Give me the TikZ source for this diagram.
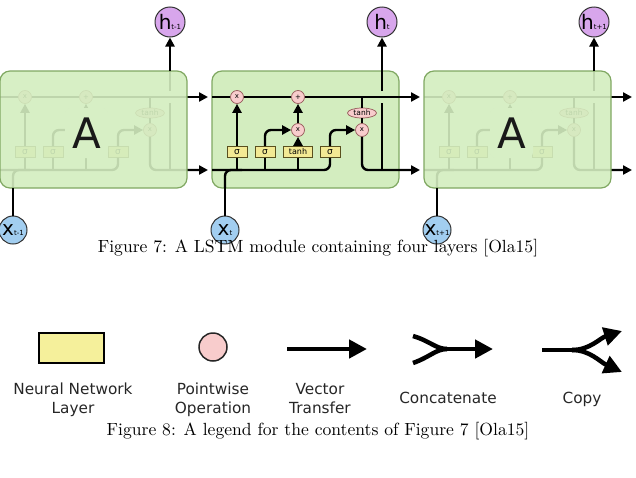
\documentclass[tikz,border=0pt]{standalone}
\usepackage{fontspec}
\newfontfamily\dv{DejaVu Sans}
\newfontfamily\capfont{lmroman10-regular.otf}
\usetikzlibrary{arrows.meta,shapes.geometric}
\definecolor{boxgreen}{RGB}{211,237,191}
\definecolor{boxedge}{RGB}{128,168,98}
\definecolor{hpurple}{RGB}{216,166,236}
\definecolor{xblue}{RGB}{162,206,240}
\definecolor{ptpink}{RGB}{248,204,204}
\definecolor{ptedge}{RGB}{150,90,90}
\definecolor{nnyellow}{RGB}{243,233,148}
\definecolor{nnedge}{RGB}{90,80,30}
\definecolor{legyellow}{RGB}{245,240,155}
\tikzset{
  wire/.style={line width=2.4pt, line join=round},
  arr/.style={wire, -{Triangle[length=9pt,width=9pt]}},
  cellbox/.style={rectangle, draw=boxedge, line width=1.2pt, fill=boxgreen, rounded corners=10pt,
    minimum width=187pt, minimum height=117pt, inner sep=0pt},
  faintbox/.style={cellbox, fill opacity=.9},
  pw/.style={circle, draw=ptedge, fill=ptpink, line width=0.7pt, minimum size=13pt, inner sep=0pt,
    font=\dv\fontsize{7}{7}\selectfont},
  nn/.style={rectangle, draw=nnedge, fill=nnyellow, line width=0.8pt, minimum height=11pt,
    minimum width=20pt, inner sep=0pt, font=\dv\fontsize{9}{9}\selectfont},
  tanhnode/.style={ellipse, draw=ptedge, fill=ptpink, line width=0.7pt, minimum width=29pt,
    minimum height=10pt, inner sep=0pt, font=\dv\fontsize{7.5}{7.5}\selectfont},
  hcirc/.style={circle, draw=black!80, fill=hpurple, line width=1pt, minimum size=30pt, inner sep=0pt},
  xcirc/.style={circle, draw=black!80, fill=xblue, line width=1pt, minimum size=28pt, inner sep=0pt},
  bigA/.style={font=\dv\fontsize{42}{42}\selectfont, text=black!90, fill=boxgreen!90!white,
    rounded corners=6pt, minimum width=43pt, minimum height=50pt, inner sep=0pt},
  legtext/.style={font=\dv\fontsize{15.3}{19}\selectfont, align=center, text=black!85},
  captiontext/.style={font=\capfont\fontsize{17.6}{20}\selectfont, anchor=base},
  legwire/.style={line width=4.5pt},
  legarr/.style={legwire, -{Triangle[length=18pt,width=18pt]}},
  pics/cellinner/.style n args={2}{code={
    \coordinate (-tin) at (0,97);
    \coordinate (-tout) at (208,97);
    \coordinate (-bin) at (0,170);
    \coordinate (-bout) at (208,170);
    \coordinate (-xbot) at (13,188);
    \coordinate (-xj) at (30,170);
    \coordinate (-hbot) at (170,170);
    \coordinate (-hlow) at (170,103);
    \coordinate (-hup) at (170,91);
    \coordinate (-htop) at (170,71);
    \coordinate (-ttap) at (150,97);
    \node[pw] (-m1) at (25,97) {x};
    \node[pw] (-add) at (86,97) {+};
    \node[pw] (-m2) at (86,130) {#1};
    \node[pw] (-m3) at (150,130) {x};
    \node[tanhnode] (-th) at (150,113) {tanh};
    \node[nn] (-s1) at (25,152) {σ};
    \node[nn] (-s2) at (53,152) {σ};
    \node[nn, minimum width=29pt, font=\dv\fontsize{8}{8}\selectfont] (-tb) at (86,152) {#2};
    \node[nn] (-s4) at (118,152) {σ};
    \draw[wire] (-tin) -- (-m1.west);
    \draw[wire] (-m1.east) -- (-add.west);
    \draw[arr] (-add.east) -- (-tout);
    \draw[wire, rounded corners=6pt] (-bin) -| (-s4.south);
    \draw[wire, rounded corners=6pt] (-xbot) |- (-xj);
    \draw[wire] (-s1.south) -- (-s1.south |- -bin);
    \draw[wire] (-s2.south) -- (-s2.south |- -bin);
    \draw[wire] (-tb.south) -- (-tb.south |- -bin);
    \draw[arr] (-s1.north) -- (-m1.south);
    \draw[arr, rounded corners=6pt] (-s2.north) |- (-m2.west);
    \draw[arr] (-tb.north) -- (-m2.south);
    \draw[arr] (-m2.north) -- (-add.south);
    \draw[arr, rounded corners=6pt] (-s4.north) |- (-m3.west);
    \draw[wire] (-ttap) -- (-th.north);
    \draw[wire] (-th.south) -- (-m3.north);
    \draw[arr, rounded corners=6pt] (-m3.south) |- (-bout);
    \draw[wire] (-hbot) -- (-hlow);
    \draw[wire] (-hup) -- (-htop);
  }}
}
\begin{document}
\begin{tikzpicture}[x=1pt,y=-1pt]
\useasboundingbox (0,0) rectangle (636,477);
% cells
\pic (L) at (0,0) {cellinner={}{}};
\node[faintbox] (boxL) at (93.5,129.5) {};
\node[cellbox] (boxM) at (305.5,129.5) {};
\pic (M) at (212,0) {cellinner={x}{tanh}};
\pic (R) at (424,0) {cellinner={}{}};
\node[faintbox] (boxR) at (517.5,129.5) {};
\node[bigA] (AL) at (86.5,133) {A};
\node[bigA] (AR) at (511.5,133) {A};
% outputs and inputs
\node[hcirc] (hL) at (170,22) {\dv\fontsize{20}{20}\selectfont h\fontsize{7}{7}\selectfont t-1};
\node[hcirc] (hM) at (382,22) {\dv\fontsize{20}{20}\selectfont h\fontsize{7}{7}\selectfont t};
\node[hcirc] (hR) at (594,22) {\dv\fontsize{20}{20}\selectfont h\fontsize{7}{7}\selectfont t+1};
\draw[arr] (L-htop) -- (hL);
\draw[arr] (M-htop) -- (hM);
\draw[arr] (R-htop) -- (hR);
\node[xcirc] (xL) at (13,230) {\dv\fontsize{20}{20}\selectfont x\fontsize{7}{7}\selectfont t-1};
\node[xcirc] (xM) at (225,230) {\dv\fontsize{20}{20}\selectfont x\fontsize{7}{7}\selectfont t};
\node[xcirc] (xR) at (437,230) {\dv\fontsize{20}{20}\selectfont x\fontsize{7}{7}\selectfont t+1};
\draw[wire] (xL) -- (L-xbot);
\draw[wire] (xM) -- (M-xbot);
\draw[wire] (xR) -- (R-xbot);
\node[captiontext] (cap7) at (318,252) {Figure 7: A LSTM module containing four layers [Ola15]};
% legend
\node[rectangle, draw=black, line width=1.8pt, fill=legyellow, minimum width=65pt, minimum height=30pt, inner sep=0pt] (lgnn) at (71.5,348) {};
\node[circle, draw=black!85, line width=1.5pt, fill=ptpink, minimum size=28pt, inner sep=0pt] (lgpw) at (213,347) {};
\coordinate (vs) at (287,349);
\coordinate (ve) at (367,349);
\draw[legarr] (vs) -- (ve);
\coordinate (ca) at (413,336);
\coordinate (cb) at (413,363);
\coordinate (cm) at (447,349);
\coordinate (ce) at (493,349);
\draw[legwire] (ca) .. controls (430,341) and (436,349) .. (cm);
\draw[legwire] (cb) .. controls (430,357) and (436,349) .. (cm);
\draw[legarr] (cm) -- (ce);
\coordinate (ka) at (542,350);
\coordinate (km) at (572,350);
\coordinate (kt) at (622,331);
\coordinate (kb) at (622,372);
\draw[legwire] (ka) -- (km);
\draw[legarr] (km) .. controls (590,350) and (600,338) .. (kt);
\draw[legarr] (km) .. controls (590,350) and (600,362) .. (kb);
\node[legtext] (lbnn) at (73,400) {Neural Network\\Layer};
\node[legtext] (lbpw) at (213,400) {Pointwise\\Operation};
\node[legtext] (lbvt) at (320,399) {Vector\\Transfer};
\node[legtext, anchor=base] (lbcc) at (448,403) {Concatenate};
\node[legtext, anchor=base] (lbcp) at (582,403) {Copy};
\node[captiontext] (cap8) at (318,435) {Figure 8: A legend for the contents of Figure 7 [Ola15]};
\end{tikzpicture}
\end{document}
